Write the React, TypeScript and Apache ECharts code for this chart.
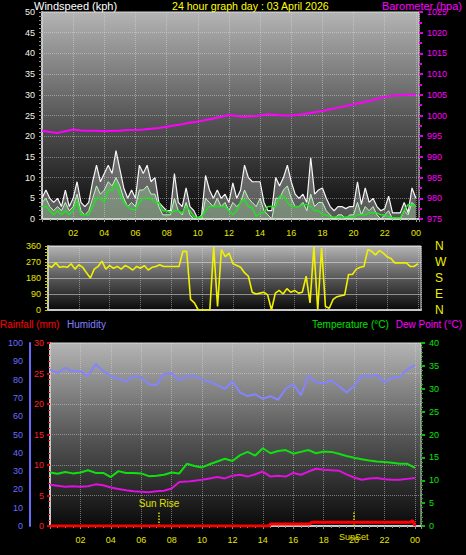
import React, { useEffect, useRef } from 'react';
import * as echarts from 'echarts';

const TITLE = '24 hour graph day : 03 April 2026';
const WIND_STEP = 0.25; // hours between wind samples
const SLOW_STEP = 0.5; // hours between slow-changing samples

const gust = [
  5, 7, 5, 4, 5, 3, 7, 3, 5, 9,
  4, 3, 4, 9, 13, 9, 11, 13, 11, 16.5,
  12, 7.5, 5, 7, 5, 13, 11, 13, 9, 10,
  4, 3, 2, 2, 11, 4, 3, 7.5, 3, 2,
  0, 1, 10.5, 7, 5, 7, 5, 6, 4, 8.7,
  5, 7, 13, 10, 9, 9, 9, 4, 2, 2,
  10, 8, 10, 13, 9, 6, 5, 6, 4, 14.8,
  6, 7, 7.5, 5, 3, 2, 3, 3, 2.5, 3,
  3, 9, 3.5, 7.5, 4, 5, 3, 2, 2.5, 5.5,
  1.5, 1.5, 1.5, 4, 1.5, 7.5, 5,
];
const windSpeed = [
  4, 5, 3, 2, 3, 2, 4, 2, 3, 6,
  2, 1, 2, 5, 8, 6, 7, 9, 8, 10,
  8, 5, 3, 4, 3, 7, 7, 8, 6, 6,
  3, 1, 1, 1, 5, 2, 1, 4, 1, 0,
  0, 0, 5, 4, 3, 5, 3, 4, 2, 4,
  3, 4, 7, 5, 4, 3, 5, 2, 1, 0,
  5, 5, 7, 8, 5, 3, 3, 4, 2, 6,
  3, 4, 4, 2, 1, 0, 1, 1, 0, 1,
  1, 4, 1, 3, 2, 3, 1, 0, 1, 2,
  0, 0, 0, 2, 1, 4, 3,
];
const windAvg = [
  3, 3, 2, 1, 2, 1, 2, 1, 2, 4.3,
  1, 1, 1, 3, 5, 5, 4, 7, 7, 8.7,
  6, 4, 3, 2.3, 2.3, 4, 5, 5, 5, 4,
  4, 2, 2, 1.5, 2, 2, 1.5, 3, 2, 0.6,
  0.3, 0.6, 2, 3, 3, 3, 3, 3, 2, 1,
  2, 4.3, 4.7, 3, 2.7, 0.6, 1.5, 1.5, 3, 3,
  3, 5.5, 5.5, 4, 3, 3, 3, 3.5, 3.5, 3,
  2, 2, 1, 1, 0.5, 0.5, 0.5, 0.3, 0.5, 0.5,
  0.5, 1, 1, 1, 1.5, 1.5, 1.5, 1, 1, 0.5,
  0.3, 0.3, 0.3, 2, 3.5, 3.5, 3,
];
const windDir = [
  250, 240, 265, 240, 245, 240, 260, 230, 255, 240,
  210, 180, 230, 245, 275, 230, 250, 235, 245, 230,
  250, 240, 225, 245, 235, 250, 225, 240, 245, 255,
  245, 245, 245, 245, 245, 330, 330, 60, 40, 0,
  0, 0, 0, 355, 20, 340, 300, 320, 260, 250,
  240, 210, 190, 100, 90, 95, 100, 85, 0, 95,
  110, 90, 120, 100, 110, 95, 100, 190, 40, 355,
  0, 350, 20, 10, 60, 75, 80, 85, 200, 200,
  230, 240, 245, 340, 330, 310, 335, 320, 300, 290,
  265, 265, 265, 265, 245, 245, 260,
];
const barometer = [
  996.3, 996.0, 995.8, 996.2, 996.6, 996.4, 996.3, 996.3, 996.2, 996.3,
  996.3, 996.5, 996.5, 996.6, 996.8, 997.0, 997.3, 997.6, 997.9, 998.3,
  998.5, 998.9, 999.3, 999.7, 1000.1, 999.9, 999.7, 999.8, 1000.0, 1000.3,
  1000.2, 1000.0, 1000.0, 1000.2, 1000.5, 1000.8, 1001.1, 1001.5, 1001.9, 1002.3,
  1002.7, 1003.1, 1003.5, 1004.0, 1004.5, 1004.8, 1004.9, 1005.0, 1005.1,
];
const humidity = [
  85.5, 83.5, 86.5, 84.5, 84.5, 82, 88.5, 84.5, 82, 80.5,
  79, 82, 81, 77.5, 77, 83, 83.5, 79.5, 82, 82,
  80, 79, 77, 75, 79, 73, 71, 72, 69.5, 71,
  69, 75, 77.5, 71.5, 82, 78.5, 78, 79.5, 76.5, 73,
  76.5, 82, 82, 82.5, 78.5, 81, 81.5, 85.5, 88,
];
const temperature = [
  11.7, 11.4, 11.8, 11.5, 11.7, 12.2, 11.6, 11.6, 10.7, 12,
  11.6, 11.6, 11.5, 10.9, 11, 11.2, 11.7, 11.5, 13.6, 13.1,
  12.8, 13.5, 14.1, 14.7, 14.2, 15.5, 16.2, 15.4, 17.0, 15.9,
  16.4, 16.6, 15.8, 16.2, 16.6, 15.9, 16.3, 16.2, 15.8, 15.3,
  14.9, 14.6, 14.3, 14.1, 14.0, 13.8, 13.6, 13.6, 12.7,
];
const dewPoint = [
  9.0, 8.8, 8.6, 8.7, 8.6, 8.7, 9.1, 8.9, 8.4, 8.1,
  7.8, 7.6, 7.5, 7.4, 7.6, 7.7, 8.2, 9.6, 9.7, 9.9,
  10.1, 10.4, 10.7, 10.4, 11.0, 11.2, 10.8, 11.3, 11.9, 10.8,
  11.0, 10.8, 11.6, 11.2, 11.9, 12.5, 12.3, 12.2, 12.1, 11.3,
  10.6, 10.1, 10.4, 10.5, 10.2, 10.1, 10.1, 10.3, 10.5,
];
const rainTimes = [0, 14.4, 14.5, 17.1, 17.2, 23.7, 23.85, 24.0];
const rainValues = [0, 0, 0.33, 0.33, 0.6, 0.6, 0.9, 0];
const sunRise = 7.17;
const sunSet = 19.97;
const dirLetters: Record<number, string> = { 0: 'N', 90: 'E', 180: 'S', 270: 'W', 360: 'N' };

const pairs = (vals: number[], step: number) => vals.map((v, i) => [i * step, v]);
const hourLabel = (v: number) => (v <= 0 || v > 24 || v % 2 !== 0 ? '' : String(v % 24).padStart(2, '0'));
const plain = (v: number) => String(v);

const FONT = '"Liberation Sans", Arial, sans-serif';

function bg() {
  return new echarts.graphic.LinearGradient(0, 0, 0, 1, [
    { offset: 0, color: '#b4b4b4' },
    { offset: 0.5, color: '#585858' },
    { offset: 1, color: '#0a0a0a' },
  ]);
}

export default function App() {
  const ref = useRef<HTMLDivElement>(null);
  useEffect(() => {
    if (!ref.current) return;
    const chart = echarts.init(ref.current, undefined, { renderer: 'svg' });
    const gridLine = { show: true, lineStyle: { color: 'rgba(225,225,225,0.45)', type: 'dotted' as const, width: 1 } };
    const xBase = (grid: number, max: number, showLabels: boolean) => ({
      gridIndex: grid,
      type: 'value' as const,
      min: 0,
      max,
      interval: 2,
      axisLine: { show: true, lineStyle: { color: '#c8c8c8', width: 2 } },
      axisTick: { show: showLabels, length: 3, lineStyle: { color: '#909090' } },
      minorTick: { show: showLabels, splitNumber: 4, length: 2, lineStyle: { color: '#909090' } },
      axisLabel: { show: showLabels, color: '#e6e600', fontSize: 9, fontFamily: FONT, margin: 9, formatter: hourLabel },
      splitLine: gridLine,
    });
    chart.setOption({
      animation: false,
      backgroundColor: '#000',
      textStyle: { fontFamily: FONT },
      grid: [
        { left: 42, top: 12, width: 377, height: 207, show: true, backgroundColor: bg(), borderColor: '#d0d0d0', borderWidth: 1 },
        { left: 48, top: 246, width: 373, height: 64, show: true, backgroundColor: bg(), borderColor: '#d0d0d0', borderWidth: 1 },
        { left: 50, top: 343, width: 371, height: 183, show: true, backgroundColor: bg(), borderColor: '#d0d0d0', borderWidth: 1 },
      ],
      xAxis: [xBase(0, 24.2, true), xBase(1, 24.2, false), xBase(2, 24.4, true)],
      yAxis: [
        {
          gridIndex: 0, type: 'value', min: 0, max: 50, interval: 5, position: 'left',
          axisLine: { show: true, lineStyle: { color: '#c8c8c8', width: 2 } },
          axisTick: { show: true, length: 3, lineStyle: { color: '#909090' } },
          minorTick: { show: true, splitNumber: 5, length: 3, lineStyle: { color: '#909090' } },
          axisLabel: { color: '#f4f4e4', fontSize: 9, fontFamily: FONT, margin: 7 },
          splitLine: gridLine,
        },
        {
          gridIndex: 0, type: 'value', min: 975, max: 1025, interval: 5, position: 'right',
          axisLine: { show: false },
          axisTick: { show: true, length: 4, lineStyle: { color: '#e000e0', width: 2 } },
          minorTick: { show: true, splitNumber: 2, length: 3, lineStyle: { color: '#e000e0', width: 2 } },
          axisLabel: { color: '#ff00ff', fontSize: 9, fontFamily: FONT, margin: 8, formatter: plain },
          splitLine: { show: false },
        },
        {
          gridIndex: 1, type: 'value', min: 0, max: 360, interval: 90, position: 'left',
          axisLine: { show: true, lineStyle: { color: '#c8c8c8', width: 2 } },
          axisTick: { show: true, length: 3, lineStyle: { color: '#c8c800' } },
          minorTick: { show: true, splitNumber: 5, length: 3, lineStyle: { color: '#c8c800' } },
          axisLabel: { color: '#e6e600', fontSize: 9, fontFamily: FONT, margin: 7 },
          splitLine: { show: true, lineStyle: { color: 'rgba(235,235,235,0.5)', width: 1 } },
        },
        {
          gridIndex: 1, type: 'value', min: 0, max: 360, interval: 90, position: 'right',
          axisLine: { show: false }, axisTick: { show: false },
          axisLabel: { color: '#f0f000', fontSize: 12, fontFamily: FONT, margin: 14, formatter: (v: number) => dirLetters[v] ?? '' },
          splitLine: { show: false },
        },
        {
          gridIndex: 2, type: 'value', min: 0, max: 30, interval: 5, position: 'left',
          axisLine: { show: true, lineStyle: { color: '#c8c8c8', width: 2 } },
          axisTick: { show: true, length: 3, lineStyle: { color: '#e00000', width: 2 } },
          minorTick: { show: true, splitNumber: 5, length: 2, lineStyle: { color: '#c00000', width: 1 } },
          axisLabel: { color: '#ff2020', fontSize: 9, fontFamily: FONT, margin: 6 },
          splitLine: gridLine,
        },
        {
          gridIndex: 2, type: 'value', min: 0, max: 100, interval: 10, position: 'left', offset: 20,
          axisLine: { show: true, lineStyle: { color: '#6a6aff', width: 2 } },
          axisTick: { show: false },
          axisLabel: { color: '#6c6cff', fontSize: 9, fontFamily: FONT, margin: 7 },
          splitLine: { show: false },
        },
        {
          gridIndex: 2, type: 'value', min: 0, max: 40, interval: 5, position: 'right',
          axisLine: { show: false },
          axisTick: { show: true, length: 4, lineStyle: { color: '#00c000', width: 2 } },
          minorTick: { show: true, splitNumber: 5, length: 2, lineStyle: { color: '#00c000', width: 1 } },
          axisLabel: { color: '#10e010', fontSize: 9, fontFamily: FONT, margin: 8 },
          splitLine: { show: false },
        },
      ],
      series: [
        {
          type: 'line', xAxisIndex: 0, yAxisIndex: 0, data: pairs(gust, WIND_STEP), showSymbol: false,
          lineStyle: { color: '#f6f6f6', width: 1.2 }, areaStyle: { color: 'rgba(225,225,225,0.5)' }, z: 2,
        },
        {
          type: 'line', xAxisIndex: 0, yAxisIndex: 0, data: pairs(windSpeed, WIND_STEP), showSymbol: false,
          lineStyle: { color: '#c0f6c0', width: 1 }, areaStyle: { color: 'rgba(190,245,190,0.45)' }, z: 3,
        },
        {
          type: 'line', xAxisIndex: 0, yAxisIndex: 0, data: pairs(windAvg, WIND_STEP), showSymbol: false,
          lineStyle: { color: '#22e022', width: 1.5 }, z: 4,
        },
        {
          type: 'line', xAxisIndex: 0, yAxisIndex: 1, data: pairs(barometer, SLOW_STEP), showSymbol: false,
          lineStyle: { color: '#ff00ff', width: 2 }, z: 5,
        },
        {
          type: 'line', xAxisIndex: 1, yAxisIndex: 2, data: pairs(windDir, WIND_STEP), showSymbol: false,
          lineStyle: { color: '#f0f000', width: 1.6 }, z: 5,
        },
        {
          type: 'line', xAxisIndex: 2, yAxisIndex: 5, data: pairs(humidity, SLOW_STEP), showSymbol: false,
          lineStyle: { color: '#8484ff', width: 2 }, z: 5,
        },
        {
          type: 'line', xAxisIndex: 2, yAxisIndex: 6, data: pairs(temperature, SLOW_STEP), showSymbol: false,
          lineStyle: { color: '#10e010', width: 2 }, z: 5,
          markLine: {
            silent: true, symbol: 'none',
            lineStyle: { color: '#e0e000', type: 'dotted', width: 1.5 },
            label: { show: true, position: 'start', distance: 6, formatter: 'SunSet', color: '#e0e000', fontSize: 9, fontFamily: FONT },
            data: [[{ coord: [sunSet, 0] }, { coord: [sunSet, 3.2] }]],
          },
        },
        {
          type: 'line', xAxisIndex: 2, yAxisIndex: 6, data: pairs(dewPoint, SLOW_STEP), showSymbol: false,
          lineStyle: { color: '#e010e0', width: 2 }, z: 5,
        },
        {
          type: 'line', xAxisIndex: 2, yAxisIndex: 4, data: rainTimes.map((t, i) => [t, rainValues[i]]), showSymbol: false,
          lineStyle: { color: '#ff0000', width: 3 }, z: 6,
          markLine: {
            silent: true, symbol: 'none',
            lineStyle: { color: '#e0e000', type: 'dotted', width: 1.5 },
            label: { show: true, position: 'end', distance: 3, formatter: 'Sun Rise', color: '#e0e000', fontSize: 10, fontFamily: FONT },
            data: [[{ coord: [sunRise, 0] }, { coord: [sunRise, 2.4] }]],
          },
        },
      ],
      graphic: [
        { type: 'text', left: 34, top: 0, style: { text: 'Windspeed (kph)', fill: '#ffffff', font: `11px ${FONT}` } },
        { type: 'text', left: 172, top: 0, style: { text: TITLE, fill: '#ffff00', font: `10.6px ${FONT}` } },
        { type: 'text', right: 4, top: 0, style: { text: 'Barometer (hpa)', fill: '#ff00ff', font: `11px ${FONT}` } },
        { type: 'text', left: 0, top: 319, style: { text: 'Rainfall (mm)', fill: '#ff0000', font: `10px ${FONT}` } },
        { type: 'text', left: 67, top: 319, style: { text: 'Humidity', fill: '#8080ff', font: `10px ${FONT}` } },
        { type: 'text', left: 312, top: 319, style: { text: 'Temperature (°C)', fill: '#00e000', font: `10px ${FONT}` } },
        { type: 'text', right: 4, top: 319, style: { text: 'Dew Point (°C)', fill: '#ff00ff', font: `10px ${FONT}` } },
      ],
    });
    return () => chart.dispose();
  }, []);
  return <div ref={ref} style={{ position: 'absolute', left: 0, top: 0, width: 466, height: 555, background: '#000' }} />;
}
